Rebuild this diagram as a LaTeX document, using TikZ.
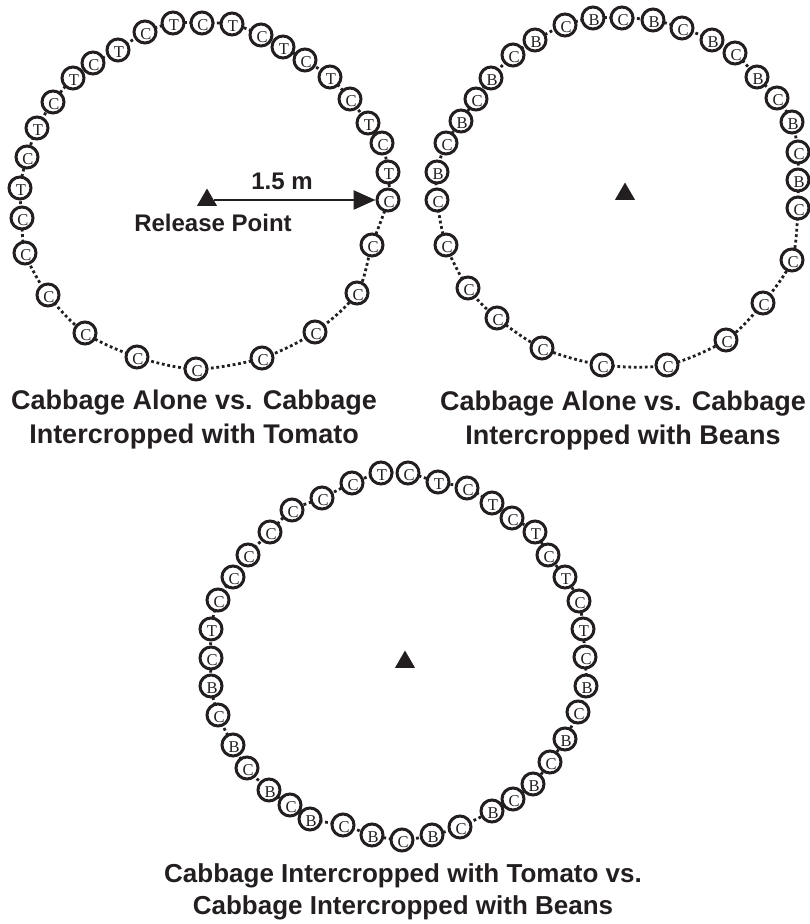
\documentclass[tikz,border=0pt]{standalone}
\usepackage{fontspec}
\setmainfont{Liberation Sans}
\newfontfamily\plantfont{Liberation Serif}
\usetikzlibrary{arrows.meta,shapes.geometric,backgrounds}
\definecolor{ink}{HTML}{231F20}
\newcommand{\plantletter}[1]{\hspace*{2pt}\raisebox{-2.5pt}[10.5pt][0pt]{#1}}
\begin{document}
\begin{tikzpicture}[x=1pt,y=-1pt,
  plant/.style={circle,draw=ink,line width=3pt,fill=white,minimum size=22pt,inner sep=0pt,text=ink,font=\plantfont\fontsize{16.5}{16.5}\selectfont},
  dotline/.style={draw=ink,line width=2.8pt,dash pattern=on 2.8pt off 2.7pt},
  release/.style={regular polygon,regular polygon sides=3,fill=ink,minimum size=23pt,inner sep=0pt},
  title/.style={font=\bfseries\fontsize{27}{34}\selectfont,text=ink,align=center},
  lab/.style={font=\bfseries\fontsize{24}{24}\selectfont,text=ink},
  dimarrow/.style={draw=ink,line width=2.7pt,-{Triangle[length=22pt,width=19pt]}}]
\useasboundingbox (0,0) rectangle (809,924);

% ---------- ring 1 : cabbage alone vs cabbage + tomato ----------
\foreach \x/\y/\l [count=\i] in {145/32/C,173/23/T,202/23/C,232/24/T,261/35/C,283/47/T,305/60/C,330/77/T,350/99/C,368/123/T,382/143/C,388/172/T,388/200/C,372/245/C,357/293/C,315/332/C,262/358/C,196/369/C,137/357/C,85/333/C,48/295/C,25/253/C,22/218/C,20/188/T,27/157/C,37/128/T,53/102/C,73/78/T,93/63/C,118/50/T}
  {\node[plant] (a\i) at (\x,\y) {\plantletter{\l}};}

% ---------- ring 2 : cabbage alone vs cabbage + beans ----------
\foreach \x/\y/\l [count=\i] in {565/25/C,593/18/B,622/18/C,653/20/B,682/28/C,712/40/B,735/53/C,757/77/B,777/98/C,792/122/B,798/152/C,798/180/B,798/208/C,792/260/C,763/303/C,726/340/C,667/365/C,602/365/C,542/348/C,497/318/C,468/288/C,446/245/C,437/200/C,437/172/B,446/143/C,461/121/B,476/99/C,491/78/B,513/55/C,535/40/B}
  {\node[plant] (b\i) at (\x,\y) {\plantletter{\l}};}

% ---------- ring 3 : tomato vs beans ----------
\foreach \x/\y/\l [count=\i] in {381/473/T,408/473/C,438/482/T,467/488/C,492/503/T,512/518/C,535/532/T,548/555/C,565/577/T,579/601/C,583/629/T,585/657/C,586/686/B,578/712/C,565/739/B,550/762/C,533/784/B,513/799/C,492/811/B,460/827/C,432/835/B,402/840/C,372/835/B,343/825/C,310/819/B,290/805/C,269/790/B,247/768/C,233/745/B,218/715/C,211/686/B,211/658/C,211/629/T,218/600/C,233/577/C,248/555/C,270/532/C,292/510/C,322/498/C,352/483/C}
  {\node[plant] (c\i) at (\x,\y) {\plantletter{\l}};}

% dotted rings behind the plants
\def\ringA{}\foreach \i in {1,...,30}{\xdef\ringA{\ringA(a\i.center)}}
\def\ringB{}\foreach \i in {1,...,30}{\xdef\ringB{\ringB(b\i.center)}}
\def\ringC{}\foreach \i in {1,...,40}{\xdef\ringC{\ringC(c\i.center)}}
\begin{pgfonlayer}{background}
\edef\tmp{\noexpand\draw[dotline] plot[smooth cycle] coordinates {\ringA};}\tmp
\edef\tmp{\noexpand\draw[dotline] plot[smooth cycle] coordinates {\ringB};}\tmp
\edef\tmp{\noexpand\draw[dotline] plot[smooth cycle] coordinates {\ringC};}\tmp
\end{pgfonlayer}

% release points
\node[release] (rp1) at (207,200) {};
\node[release] (rp2) at (625,194) {};
\node[release] (rp3) at (405,662) {};

% radius arrow and labels
\draw[dimarrow] (rp1) -- (a13);
\node[lab] (dist) at (282,181) {1.5 m};
\node[lab] (rplab) at (213,223) {Release Point};

% titles
\node[title] (t1) at (194,420) {Cabbage Alone vs. Cabbage\\Intercropped with Tomato};
\node[title] (t2) at (623,421) {Cabbage Alone vs. Cabbage\\Intercropped with Beans};
\node[title,font=\bfseries\fontsize{26}{32}\selectfont] (t3) at (403,892) {Cabbage Intercropped with Tomato vs.\\Cabbage Intercropped with Beans};
\end{tikzpicture}
\end{document}
